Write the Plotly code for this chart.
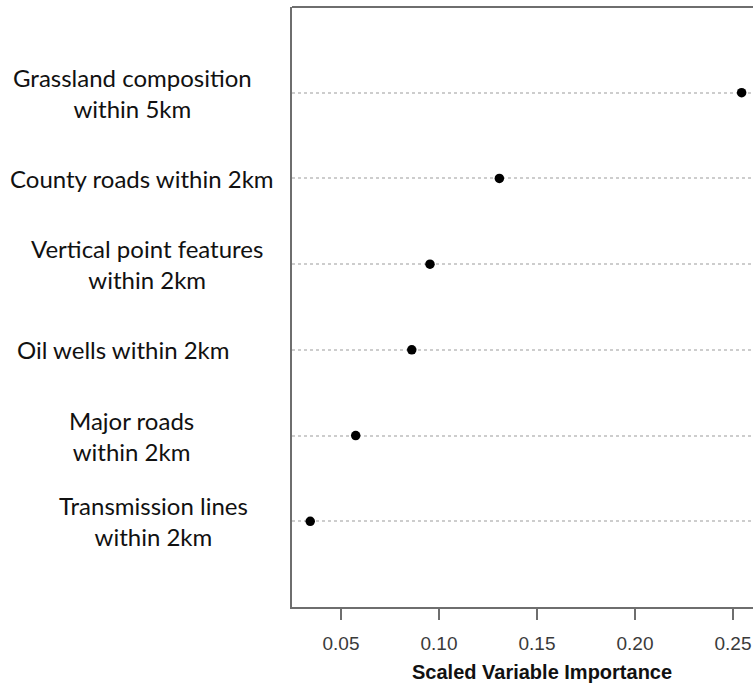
import plotly.graph_objects as go

# Predictors, bottom row first (dotchart order)
variables = [
    "Transmission lines<br>within 2km",
    "Major roads<br>within 2km",
    "Oil wells within 2km",
    "Vertical point features<br>within 2km",
    "County roads within 2km",
    "Grassland composition<br>within 5km",
]
importance = [0.0343, 0.0575, 0.0861, 0.0954, 0.1308, 0.2544]
x_ticks = [0.05, 0.10, 0.15, 0.20, 0.25]

rows = list(range(1, len(variables) + 1))

# Horizontal centre (in pixels) of each left-hand label block
label_centers_px = [153, 131, 123, 147, 142, 132]

W, H = 753, 686
ML, MR, MT, MB = 292, 0, 7, 79
plot_w = W - ML - MR
plot_h = H - MT - MB

fig = go.Figure()
fig.add_trace(go.Scatter(
    x=importance, y=rows, mode="markers",
    marker=dict(color="black", size=9.5),
    hoverinfo="x", showlegend=False, cliponaxis=False,
))

axis_color = "#6e6e6e"

fig.update_layout(
    width=W, height=H,
    margin=dict(l=ML, r=MR, t=MT, b=MB, pad=0),
    paper_bgcolor="white", plot_bgcolor="white",
    xaxis=dict(
        range=[0.025, 0.05 + (W - ML - 49) / 1960],
        tickvals=x_ticks, tickformat=".2f",
        ticks="outside", ticklen=11, tickwidth=2, tickcolor=axis_color,
        ticklabelstandoff=7,
        showline=True, linecolor=axis_color, linewidth=2,
        showgrid=False, zeroline=False,
        tickfont=dict(family="Liberation Sans, Arial", size=19, color="#3a3a3a"),
    ),
    yaxis=dict(
        range=[0, len(variables) + 1],
        tickvals=rows, showticklabels=False, ticks="",
        showline=True, linecolor=axis_color, linewidth=2,
        showgrid=True, gridcolor="#cdcdcd", gridwidth=1.5, griddash="dot",
        zeroline=False,
    ),
)

# top border of the plotting box
fig.add_shape(type="line", xref="paper", yref="paper", x0=0, x1=1, y0=1, y1=1,
              line=dict(color=axis_color, width=2))

# variable labels on the left
for name, r, cx in zip(variables, rows, label_centers_px):
    fig.add_annotation(
        text=name, xref="paper", yref="y",
        x=(cx - ML) / plot_w, y=r, xanchor="center", yanchor="middle",
        align="center", showarrow=False,
        font=dict(family="Lato, Carlito, Calibri", size=24, color="#111111"),
    )

# axis title
fig.add_annotation(
    text="<b>Scaled Variable Importance</b>", xref="paper", yref="paper",
    x=(542 - ML) / plot_w, y=(plot_h - (672 - MT)) / plot_h,
    xanchor="center", yanchor="middle", showarrow=False,
    font=dict(family="Liberation Sans, Arial", size=20, color="#111111"),
)

fig.write_html("out.html")
